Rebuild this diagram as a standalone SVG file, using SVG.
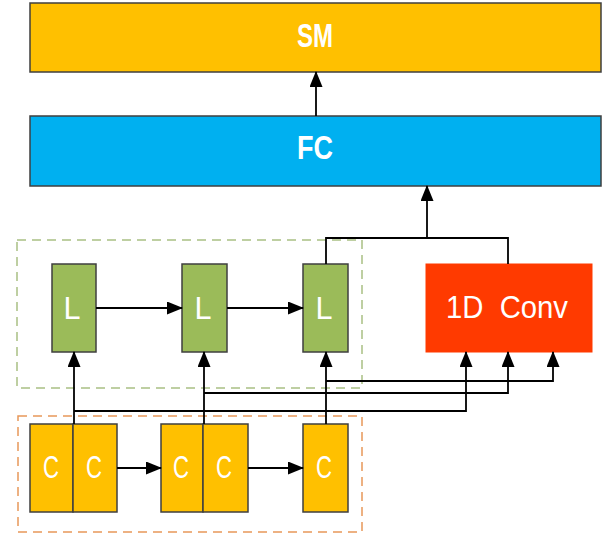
<svg xmlns="http://www.w3.org/2000/svg" width="605" height="535" viewBox="0 0 605 535">
<style>
.box{stroke:#3f3f3f;stroke-width:1.5}
.sm{fill:#FFC000}
.fc{fill:#00B0F0}
.l{fill:#9BBB59}
.c{fill:#FFC000}
.conv{fill:#FF3A00}
.t{fill:#ffffff;font-family:"Liberation Sans",Arial,sans-serif;font-size:32px;text-anchor:middle}
.b{font-weight:bold;font-size:33px}
.wire{fill:none;stroke:#000;stroke-width:1.8}
.arr{marker-end:url(#ah)}
</style>
<defs>
<marker id="ah" markerUnits="userSpaceOnUse" markerWidth="16" markerHeight="13" refX="15" refY="6.5" orient="auto">
<path d="M0,0 L16,6.5 L0,13 z" fill="#000"/>
</marker>
</defs>
<rect x="17" y="240" width="345" height="148" fill="none" stroke="#A9C084" stroke-width="1.5" stroke-dasharray="9,6"/>
<rect x="18" y="416" width="344" height="116" fill="none" stroke="#E8985A" stroke-width="1.5" stroke-dasharray="9,6"/>
<g id="sm"><rect class="box sm" x="30" y="3" width="571" height="69"/><text class="t b" x="315" y="47" textLength="36" lengthAdjust="spacingAndGlyphs">SM</text></g>
<g id="fc"><rect class="box fc" x="30" y="116" width="571" height="70"/><text class="t b" x="315" y="159" textLength="36" lengthAdjust="spacingAndGlyphs">FC</text></g>
<g id="l1"><rect class="box l" x="52" y="264" width="44" height="88"/><text class="t" x="72" y="319" textLength="17" lengthAdjust="spacingAndGlyphs">L</text></g>
<g id="l2"><rect class="box l" x="182" y="264" width="45" height="88"/><text class="t" x="203" y="319" textLength="17" lengthAdjust="spacingAndGlyphs">L</text></g>
<g id="l3"><rect class="box l" x="303" y="264" width="45" height="88"/><text class="t" x="324" y="319" textLength="17" lengthAdjust="spacingAndGlyphs">L</text></g>
<g id="conv"><rect class="conv" x="426" y="264" width="166" height="88" stroke="#ff3a00"/><text class="t" x="507" y="318" textLength="122" lengthAdjust="spacingAndGlyphs" xml:space="preserve">1D  Conv</text></g>
<g id="c1"><rect class="box c" x="30" y="424" width="43" height="88"/><text class="t" x="51" y="478" textLength="16" lengthAdjust="spacingAndGlyphs">C</text></g>
<g id="c2"><rect class="box c" x="73" y="424" width="44" height="88"/><text class="t" x="94" y="478" textLength="16" lengthAdjust="spacingAndGlyphs">C</text></g>
<g id="c3"><rect class="box c" x="161" y="424" width="42" height="88"/><text class="t" x="181" y="478" textLength="16" lengthAdjust="spacingAndGlyphs">C</text></g>
<g id="c4"><rect class="box c" x="203" y="424" width="45" height="88"/><text class="t" x="224" y="478" textLength="16" lengthAdjust="spacingAndGlyphs">C</text></g>
<g id="c5"><rect class="box c" x="303" y="424" width="45" height="88"/><text class="t" x="324" y="478" textLength="16" lengthAdjust="spacingAndGlyphs">C</text></g>
<g id="connectors">
<line class="wire arr" x1="316" y1="116" x2="316" y2="72"/>
<polyline class="wire" points="326,264 326,238 508,238 508,264"/>
<line class="wire arr" x1="427" y1="238" x2="427" y2="186"/>
<line class="wire arr" x1="96" y1="308" x2="182" y2="308"/>
<line class="wire arr" x1="227" y1="308" x2="303" y2="308"/>
<line class="wire arr" x1="117" y1="468" x2="161" y2="468"/>
<line class="wire arr" x1="248" y1="468" x2="303" y2="468"/>
<line class="wire arr" x1="74" y1="424" x2="74" y2="352"/>
<line class="wire arr" x1="204" y1="424" x2="204" y2="352"/>
<line class="wire arr" x1="326" y1="424" x2="326" y2="352"/>
<polyline class="wire arr" points="74,411 466,411 466,352"/>
<polyline class="wire arr" points="204,393 508,393 508,352"/>
<polyline class="wire arr" points="326,381 553,381 553,352"/>
</g>
</svg>
